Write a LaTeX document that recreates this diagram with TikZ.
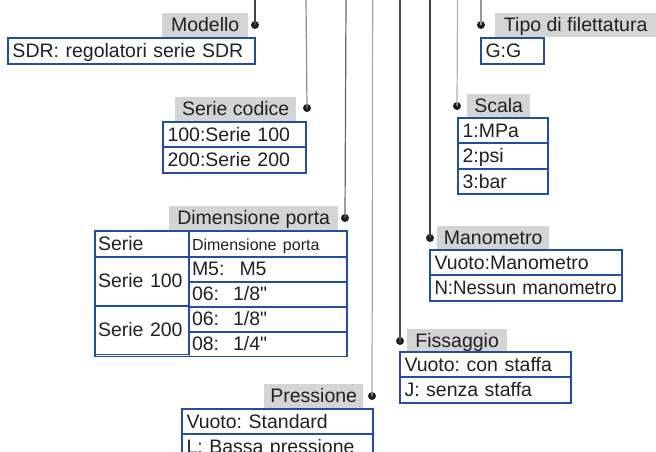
\documentclass[tikz,border=0pt]{standalone}
\usepackage{fontspec}
\setmainfont{Liberation Sans}
\usepackage{tikz}
\usetikzlibrary{positioning}
\definecolor{optblue}{RGB}{32,78,160}
\definecolor{lblgray}{RGB}{212,212,212}
\definecolor{ink}{RGB}{35,31,32}
\frenchspacing

\begin{document}
\begin{tikzpicture}[x=1pt,y=-1pt,% pixel units, y runs downwards
		every node/.style={
			font=\fontsize{19.5}{22}\selectfont,
			text=ink
		},
		optrow/.style={draw=optblue,line width=1pt,anchor=north west,
			inner xsep=4pt,inner ysep=0pt,text width=#1,align=left,
			minimum height=24.4pt,text height=15.5pt,text depth=2.5pt},
		cell/.style={optrow=#1,inner xsep=2.5pt},
		lbl/.style={fill=lblgray,anchor=north west,inner sep=0pt,
			minimum width=#1,minimum height=24pt,text height=15.5pt,text depth=2.5pt},
		bullet/.style={circle,fill=ink,inner sep=0pt,minimum size=8pt},
		frame/.style={draw=optblue,line width=1.8pt},
		lead/.style={line width=1.2pt,draw=#1}
	]
	\useasboundingbox (0,0) rectangle (656,452);

	% Modello
	\node[lbl=86](lMod) at (162,13) {Modello};
	\node[bullet](pMod) at (255,25) {};
	\node[optrow=238,minimum height=25pt](bMod) at (8,38) {SDR: regolatori serie SDR};
	\draw[frame] (bMod.north west) rectangle (bMod.south east);

	% Serie codice
	\node[lbl=121](lSer) at (175,97) {Serie codice};
	\node[bullet](pSer) at (307,108) {};
	\node[optrow=134](bSer1) at (163,122) {100:Serie 100};
	\node[optrow=134,below=0pt of bSer1](bSer2) {200:Serie 200};
	\draw[frame] (bSer1.north west) rectangle (bSer2.south east);

	% Dimensione porta
	\node[lbl=169](lDim) at (169,206) {Dimensione porta};
	\node[bullet](pDim) at (345,218) {};
	\node[cell=88,minimum height=25pt](hSer) at (95,230.5) {Serie};
	\node[cell=152,minimum height=25pt,right=0pt of hSer](hDim) {\fontsize{16}{18}\selectfont Dimensione porta};
	\node[cell=88,minimum height=48pt,below=0pt of hSer](cS100) {Serie 100};
	\node[cell=88,minimum height=48pt,below=0pt of cS100](cS200) {Serie 200};
	\node[cell=152,minimum height=24pt,below=0pt of hDim](cM5) {M5:\hspace{15pt}M5};
	\node[cell=152,minimum height=24pt,below=0pt of cM5](c06a) {06:\hspace{14pt}1/8\textquotedbl};
	\node[cell=152,minimum height=24pt,below=0pt of c06a](c06b) {06:\hspace{14pt}1/8\textquotedbl};
	\node[cell=152,minimum height=24pt,below=0pt of c06b](c08) {08:\hspace{14pt}1/4\textquotedbl};
	\draw[frame] (hSer.north west) rectangle (c08.south east);

	% Pressione
	\node[lbl=99](lPre) at (264,384) {Pressione};
	\node[bullet](pPre) at (372,396) {};
	\node[optrow=182](bPre1) at (182,409) {Vuoto: Standard};
	\node[optrow=182,below=0pt of bPre1](bPre2) {L: Bassa pressione};
	\draw[frame] (bPre1.north west) rectangle (bPre2.south east);

	% Fissaggio
	\node[lbl=100](lFis) at (407,329) {Fissaggio};
	\node[bullet](pFis) at (400,341) {};
	\node[optrow=162](bFis1) at (400,352) {Vuoto: con staffa};
	\node[optrow=162,below=0pt of bFis1](bFis2) {J: senza staffa};
	\draw[frame] (bFis1.north west) rectangle (bFis2.south east);

	% Manometro
	\node[lbl=112](lMan) at (437,226) {Manometro};
	\node[bullet](pMan) at (430,238) {};
	\node[optrow=183](bMan1) at (430,250) {Vuoto:Manometro};
	\node[optrow=183,below=0pt of bMan1](bMan2) {\scalebox{0.955}[1]{N:Nessun manometro}};
	\draw[frame] (bMan1.north west) rectangle (bMan2.south east);

	% Scala
	\node[lbl=63](lSca) at (467,94) {Scala};
	\node[bullet](pSca) at (457,106) {};
	\node[optrow=81](bSca1) at (458,118) {1:MPa};
	\node[optrow=81,below=0pt of bSca1](bSca2) {2:psi};
	\node[optrow=81,below=0pt of bSca2](bSca3) {3:bar};
	\draw[frame] (bSca1.north west) rectangle (bSca3.south east);

	% Tipo di filettatura
	\node[lbl=161](lTip) at (495,13) {Tipo di filettatura};
	\node[bullet](pTip) at (481,25) {};
	\node[optrow=54,minimum height=25pt](bTip) at (481,38) {G:G};
	\draw[frame] (bTip.north west) rectangle (bTip.south east);

	% leads from the top edge
	\coordinate (tMod) at (255,0);
	\coordinate (tSer) at (306,0);
	\coordinate (tDim) at (346,0);
	\coordinate (tPre) at (372.7,0);
	\coordinate (tFis) at (400,0);
	\coordinate (tMan) at (430,0);
	\coordinate (tSca) at (457.5,0);
	\coordinate (tTip) at (481,0);
	\draw[lead=ink!85] (tMod) -- (pMod.center);
	\draw[lead=black!45] (tSer) -- (pSer.center);
	\draw[lead=black!60] (tDim) -- (pDim.center);
	\draw[lead=black!35] (tPre) -- (pPre.center);
	\draw[lead=black!70] (tFis) -- (pFis.center);
	\draw[lead=black!75] (tMan) -- (pMan.center);
	\draw[lead=black!30] (tSca) -- (pSca.center);
	\draw[lead=black!40] (tTip) -- (pTip.center);
\end{tikzpicture}
\end{document}
